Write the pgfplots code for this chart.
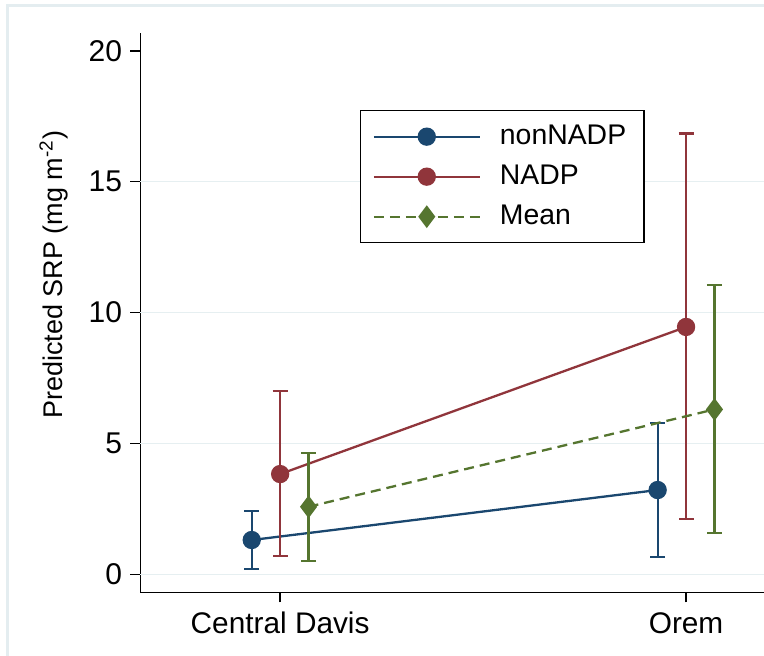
\documentclass[border=0pt]{standalone}
\usepackage{fontspec}
\setmainfont{Liberation Sans}
\usepackage{pgfplots}
\pgfplotsset{compat=1.18}
\usepackage{pgfplotstable}

\definecolor{snavy}{RGB}{26,71,111}
\definecolor{smaroon}{RGB}{144,53,59}
\definecolor{sgreen}{RGB}{85,117,47}
\definecolor{sgrid}{RGB}{230,239,241}
\definecolor{sframe}{RGB}{228,237,240}

% site (1 = Central Davis, 2 = Orem), predicted value, 95% CI
\pgfplotstableread{
x y lo hi
0.93 1.31 0.20 2.43
1.93 3.22 0.67 5.77
}\nonnadp
\pgfplotstableread{
x y lo hi
1.00 3.83 0.71 7.00
2.00 9.45 2.10 16.84
}\nadp
\pgfplotstableread{
x y lo hi
1.07 2.58 0.52 4.64
2.07 6.30 1.57 11.05
}\meanrow

\newcommand\legtxt[1]{\makebox[66pt][l]{#1}}

\begin{document}
\begin{tikzpicture}
\path[use as bounding box, clip] (-70.25pt,-31.35pt) rectangle (311.75pt,296.15pt);
\draw[sframe, line width=1.5pt] (-66.25pt,-80pt) rectangle (340pt,293.65pt);
\begin{axis}[
  at={(0,0)}, anchor=south west,
  scale only axis, width=311.75pt, height=279.65pt,
  xmin=0.656, xmax=2.192, ymin=-0.688, ymax=20.68,
  axis lines*=left,
  axis line style={line width=0.7pt, black},
  tick align=outside, major tick length=5pt,
  tick style={line width=0.7pt, black},
  xtick={1,2}, xticklabels={Central Davis,Orem},
  ytick={0,5,10,15,20},
  /pgf/number format/assume math mode=true,
  yticklabel style={font=\fontsize{15}{18}\selectfont, inner xsep=4pt},
  xticklabel style={font=\fontsize{14.9}{17}\selectfont, inner ysep=5pt,
    text height=10.5pt, text depth=3pt},
  ylabel={Predicted SRP (mg m\textsuperscript{-2})},
  ylabel style={at={(axis description cs:-0.1243,0.568)}, anchor=base,
    font=\fontsize{13.5}{16}\selectfont},
  legend style={at={(axis description cs:0.352,0.8623)}, anchor=north west,
    draw=black, line width=0.65pt, fill=white,
    inner xsep=6pt, inner ysep=3pt, row sep=0pt,
    font=\fontsize{14.2}{16}\selectfont,
    nodes={inner sep=0pt, text height=14pt, text depth=6pt},
    cells={anchor=west},
    /tikz/every odd column/.append style={column sep=9.5pt}},
  legend image code/.code={
    \draw[mark repeat=2, mark phase=2, #1]
      plot coordinates {(0pt,0pt) (26.5pt,0pt) (53pt,0pt)};},
  clip=false,
]
\foreach \g in {0,5,10,15} {
  \edef\tmp{\noexpand\draw[sgrid, line width=0.7pt]
    (axis cs:0.656,\g) -- (axis cs:2.3,\g);}\tmp
}
\addplot[snavy, line width=1.15pt, mark=*, mark size=4pt,
  mark options={solid, fill=snavy},
  error bars/.cd, y dir=both, y explicit,
  error bar style={line width=1.15pt, solid},
  error mark options={rotate=90, mark size=3.75pt, line width=1.15pt}]
  table[x=x, y=y, y error plus expr=\thisrow{hi}-\thisrow{y},
        y error minus expr=\thisrow{y}-\thisrow{lo}] {\nonnadp};
\addlegendentry{\legtxt{nonNADP}}
\addplot[smaroon, line width=1.15pt, mark=*, mark size=4pt,
  mark options={solid, fill=smaroon},
  error bars/.cd, y dir=both, y explicit,
  error bar style={line width=1.15pt, solid},
  error mark options={rotate=90, mark size=3.75pt, line width=1.15pt}]
  table[x=x, y=y, y error plus expr=\thisrow{hi}-\thisrow{y},
        y error minus expr=\thisrow{y}-\thisrow{lo}] {\nadp};
\addlegendentry{\legtxt{NADP}}
\addplot[sgreen, line width=1.15pt, dash pattern=on 5pt off 3pt,
  mark=diamond*, mark size=4.75pt,
  mark options={solid, fill=sgreen},
  error bars/.cd, y dir=both, y explicit,
  error bar style={line width=1.15pt, solid},
  error mark options={rotate=90, mark size=3.75pt, line width=1.15pt, solid}]
  table[x=x, y=y, y error plus expr=\thisrow{hi}-\thisrow{y},
        y error minus expr=\thisrow{y}-\thisrow{lo}] {\meanrow};
\addlegendentry{\legtxt{Mean}}
\end{axis}
\end{tikzpicture}
\end{document}
